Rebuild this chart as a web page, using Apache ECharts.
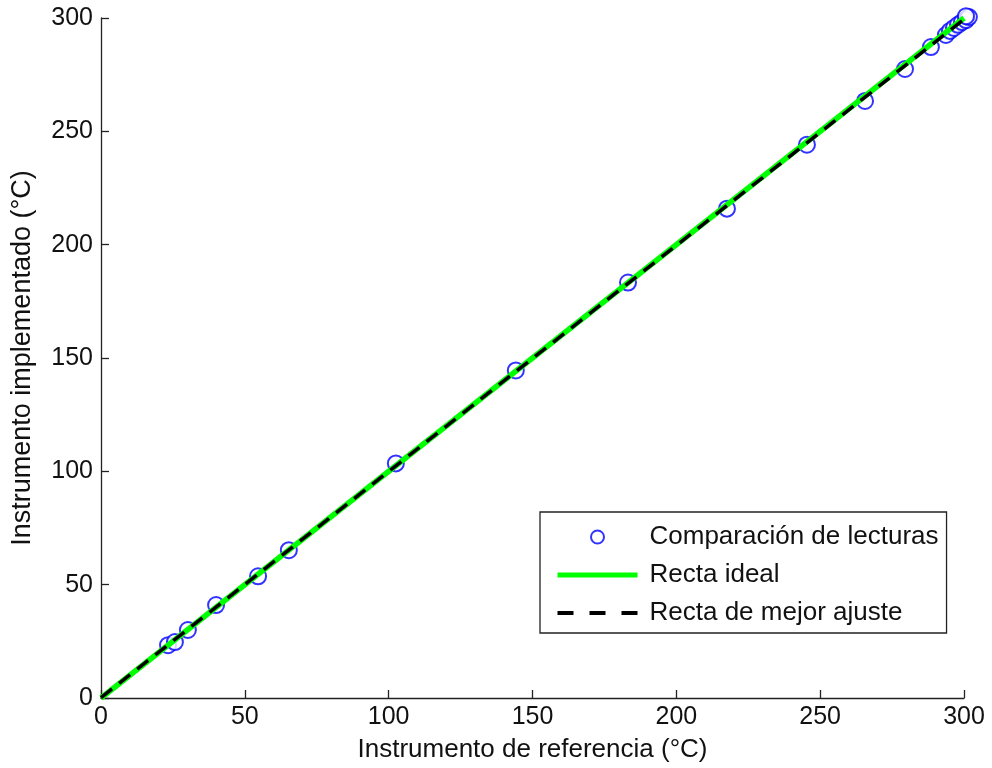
<!DOCTYPE html>
<html>
<head>
<meta charset="utf-8">
<script src="https://cdn.jsdelivr.net/npm/echarts@6/dist/echarts.min.js"></script>
<style>
  html, body { margin: 0; padding: 0; background: #fff; }
  #chart { width: 992px; height: 768px; }
</style>
</head>
<body>
<div id="chart"></div>
<script>
// lecturas: instrumento de referencia vs instrumento implementado (°C)
const refReadings = [23.3, 25.7, 30.2, 40.0, 54.6, 65.3, 102.5, 144.2, 183.2, 217.6, 245.4, 265.6, 279.5, 288.5, 293.7, 295.1, 296.5, 297.9, 299.3, 300.7, 301.7, 300.7];
const implReadings = [23.3, 24.7, 30.0, 41.0, 53.7, 65.2, 103.5, 144.5, 183.3, 215.9, 244.1, 263.4, 277.5, 287.2, 292.5, 294.3, 295.6, 297.0, 298.2, 299.1, 300.4, 300.8];
const idealLine = [[0, 0], [300, 300]];
const fitLine = [[0, 0.2], [300, 299.4]];
const axisTicks = [0, 50, 100, 150, 200, 250, 300];

const points = refReadings.map((x, i) => [x, implReadings[i]]);
const font = 'Liberation Sans, Arial, sans-serif';

const chart = echarts.init(document.getElementById('chart'));

// eje comun para x e y
function buildAxis(name, gap, nameSize) {
    return {
        type: 'value',
        min: axisTicks[0],
        max: axisTicks[axisTicks.length - 1],
        interval: 50,
        name: name,
        nameLocation: 'middle',
        nameGap: gap,
        nameTextStyle: { fontFamily: font, fontSize: nameSize, color: '#111' },
        axisLine: { show: true, lineStyle: { color: '#222', width: 1.3 } },
        axisTick: { show: true, inside: true, length: 8, lineStyle: { color: '#222', width: 1.3 } },
        axisLabel: { fontFamily: font, fontSize: 25, color: '#111' },
        splitLine: { show: false }
    };
}

const xAxis = buildAxis('Instrumento de referencia (°C)', 39, 26);
xAxis.axisLabel.margin = 7;
const yAxis = buildAxis('Instrumento implementado (°C)', 65, 27);
yAxis.axisLabel.margin = 8;

// en la leyenda las rectas no llevan marcador
const noMarker = { opacity: 0 };

chart.setOption({
    animation: false,
    backgroundColor: '#fff',
    grid: { left: 101, right: 28, top: 18, bottom: 69, containLabel: false },
    xAxis: xAxis,
    yAxis: yAxis,
    legend: {
        orient: 'vertical',
        left: 540,
        top: 512,
        padding: [12, 8, 7, 15],
        itemGap: 12,
        itemWidth: 80,
        itemHeight: 13,
        borderColor: '#222',
        borderWidth: 1.3,
        backgroundColor: '#fff',
        textStyle: { fontFamily: font, fontSize: 26, color: '#111', padding: [0, 0, 0, 7] },
        data: [
            { name: 'Comparación de lecturas', itemStyle: { borderWidth: 2.5 } },
            { name: 'Recta ideal', itemStyle: noMarker, lineStyle: { width: 5 } },
            { name: 'Recta de mejor ajuste', itemStyle: noMarker, lineStyle: { width: 4, type: [16, 16] } }
        ]
    },
    series: [
        {
            name: 'Comparación de lecturas',
            type: 'scatter',
            data: points,
            symbol: 'emptyCircle',
            symbolSize: 16,
            clip: false,
            itemStyle: { color: '#0000ff', borderColor: '#0000ff', borderWidth: 2.5 },
            z: 2
        },
        {
            name: 'Recta ideal',
            type: 'line',
            data: idealLine,
            symbol: 'none',
            lineStyle: { color: '#00ff00', width: 5.5 },
            itemStyle: { color: '#00ff00' },
            z: 3
        },
        {
            name: 'Recta de mejor ajuste',
            type: 'line',
            data: fitLine,
            symbol: 'none',
            lineStyle: { color: '#000', width: 3.5, type: [14, 9] },
            itemStyle: { color: '#000' },
            z: 4
        }
    ]
});
</script>
</body>
</html>
